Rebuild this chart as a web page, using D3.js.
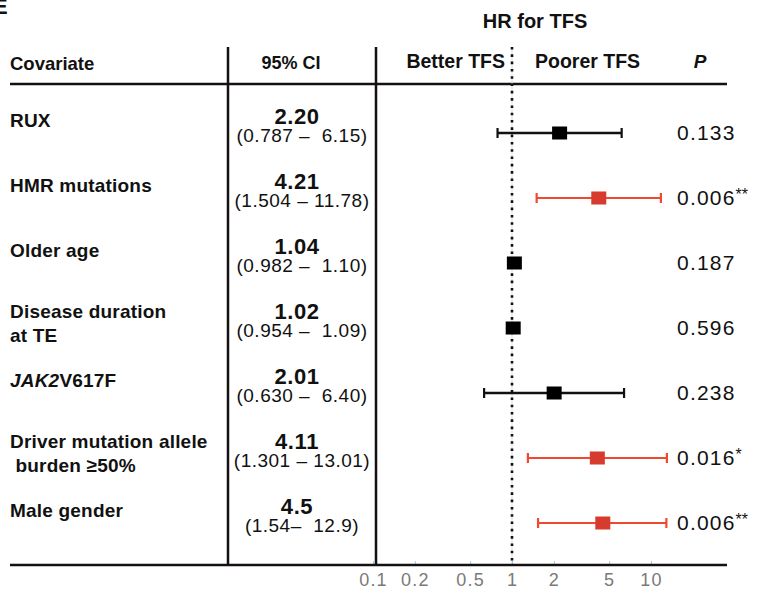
<!DOCTYPE html>
<html>
<head>
<meta charset="utf-8">
<script src="https://cdn.jsdelivr.net/npm/d3@7"></script>
<style>
  body { margin: 0; background: #fff; }
  svg text { font-family: "Liberation Sans", Arial, Helvetica, sans-serif; }
</style>
</head>
<body>
<div id="chart"></div>
<script>
const covariates = [
  ["RUX"],
  ["HMR mutations"],
  ["Older age"],
  ["Disease duration", "at TE"],
  ["JAK2V617F"],
  ["Driver mutation allele", " burden \u226550%"],
  ["Male gender"]
];
const hrValues = [2.20, 4.21, 1.04, 1.02, 2.01, 4.11, 4.5];
const hrLabels = ["2.20", "4.21", "1.04", "1.02", "2.01", "4.11", "4.5"];
const ciLow = [0.787, 1.504, 0.982, 0.954, 0.630, 1.301, 1.54];
const ciHigh = [6.15, 11.78, 1.10, 1.09, 6.40, 13.01, 12.9];
const ciLabels = [
  "(0.787 \u2013  6.15)",
  "(1.504 \u2013 11.78)",
  "(0.982 \u2013  1.10)",
  "(0.954 \u2013  1.09)",
  "(0.630 \u2013  6.40)",
  "(1.301 \u2013 13.01)",
  "(1.54\u2013  12.9)"
];
const pLabels = ["0.133", "0.006**", "0.187", "0.596", "0.238", "0.016*", "0.006**"];
const xTicks = [0.1, 0.2, 0.5, 1, 2, 5, 10];

const width = 758;
const height = 589;
const lineColor = '#161010';
const redLine = '#ef4a30';
const redBox = '#d63b2d';
const tickColor = '#7a7a7a';

const topY = 47;
const headerY = 84;
const bottomY = 565;
const leftX = 10;
const rightX = 727;
const colCI = 228;
const colPlot = 376;

const svg = d3.select('#chart')
  .append('svg')
  .attr('width', width)
  .attr('height', height);

const xScale = d3.scaleLog()
  .domain([0.1, 10])
  .range([373, 651]);

const yScale = d3.scalePoint()
  .domain(d3.range(covariates.length))
  .range([133, 523]);

// panel letter, cut at the edge like in the figure
svg.append('text')
  .attr('x', -7)
  .attr('y', 14)
  .attr('font-size', 22)
  .attr('font-weight', 'bold')
  .attr('fill', '#111')
  .text('E');

// frame lines
svg.append('line')
  .attr('x1', leftX).attr('x2', rightX)
  .attr('y1', headerY).attr('y2', headerY)
  .attr('stroke', lineColor).attr('stroke-width', 2.5);

[colCI, colPlot].forEach(x => {
  svg.append('line')
    .attr('x1', x).attr('x2', x)
    .attr('y1', topY).attr('y2', bottomY)
    .attr('stroke', lineColor).attr('stroke-width', 2.5);
});

// reference line at HR = 1
svg.append('line')
  .attr('x1', xScale(1)).attr('x2', xScale(1))
  .attr('y1', topY).attr('y2', bottomY)
  .attr('stroke', '#d5e3ea').attr('stroke-width', 1);
svg.append('line')
  .attr('x1', xScale(1)).attr('x2', xScale(1))
  .attr('y1', topY).attr('y2', bottomY)
  .attr('stroke', '#111')
  .attr('stroke-width', 2.6)
  .attr('stroke-dasharray', '2.6, 4.7');

// headers
const header = svg.append('g')
  .attr('font-weight', 'bold')
  .attr('font-size', 19)
  .attr('fill', '#111');

header.append('text').attr('x', leftX).attr('y', 70).attr('font-size', 18.5).text('Covariate');
header.append('text').attr('x', 291).attr('y', 69).attr('text-anchor', 'middle').attr('font-size', 18).text('95% CI');
header.append('text').attr('x', 535).attr('y', 28).attr('text-anchor', 'middle').attr('font-size', 20).text('HR for TFS');
header.append('text').attr('x', xScale(1) - 7).attr('y', 68).attr('text-anchor', 'end').attr('font-size', 19.5).text('Better TFS');
header.append('text').attr('x', xScale(1) + 23).attr('y', 68).attr('font-size', 19.5).text('Poorer TFS');
header.append('text').attr('x', 700).attr('y', 68).attr('text-anchor', 'middle')
  .attr('font-style', 'italic').text('P');

// axis
const xAxis = d3.axisBottom(xScale)
  .tickValues(xTicks)
  .tickFormat(d3.format('~g'))
  .tickSizeInner(-4)
  .tickSizeOuter(0)
  .tickPadding(8);

const axisG = svg.append('g')
  .attr('transform', `translate(0, ${bottomY})`)
  .call(xAxis);

axisG.select('.domain').remove();
axisG.selectAll('line').attr('stroke', '#a9c6d6');
axisG.selectAll('text')
  .attr('fill', tickColor)
  .attr('font-size', 18)
  .attr('letter-spacing', 1.2)
  .style('font-family', '"Liberation Sans", Arial, sans-serif');

svg.append('line')
  .attr('x1', leftX).attr('x2', rightX)
  .attr('y1', bottomY).attr('y2', bottomY)
  .attr('stroke', lineColor).attr('stroke-width', 2.5);

// rows
const rows = svg.append('g')
  .selectAll('g')
  .data(covariates.map((label, i) => ({
    label,
    hr: hrValues[i],
    hrLabel: hrLabels[i],
    lo: ciLow[i],
    hi: ciHigh[i],
    ciLabel: ciLabels[i],
    p: pLabels[i],
    sig: parseFloat(pLabels[i]) < 0.05,
    y: yScale(i)
  })))
  .join('g');

rows.each(function (d) {
  const g = d3.select(this);
  const labelText = g.append('text')
    .attr('font-weight', 'bold')
    .attr('font-size', 19)
    .attr('letter-spacing', 0.2)
    .attr('fill', '#111');
  if (d.label.length === 1) {
    labelText.attr('x', leftX).attr('y', d.y - 6);
    if (d.label[0].startsWith('JAK2')) {
      labelText.append('tspan').attr('font-style', 'italic').text('JAK2');
      labelText.append('tspan').text(d.label[0].slice(4));
    } else {
      labelText.text(d.label[0]);
    }
  } else {
    d.label.forEach((line, k) => {
      labelText.append('tspan')
        .attr('x', leftX)
        .attr('y', d.y - 10 + k * 24)
        .style('white-space', 'pre')
        .text(line);
    });
  }
});

rows.append('text')
  .attr('x', 297)
  .attr('y', d => d.y - 9)
  .attr('text-anchor', 'middle')
  .attr('font-weight', 'bold')
  .attr('font-size', 22)
  .attr('letter-spacing', 0.6)
  .attr('fill', '#111')
  .text(d => d.hrLabel);

rows.append('text')
  .attr('x', 302)
  .attr('y', d => d.y + 9)
  .attr('text-anchor', 'middle')
  .attr('font-size', 19)
  .attr('letter-spacing', 0.5)
  .attr('fill', '#111')
  .style('white-space', 'pre')
  .text(d => d.ciLabel);

// error bars
rows.append('line')
  .attr('x1', d => xScale(d.lo))
  .attr('x2', d => xScale(d.hi))
  .attr('y1', d => d.y).attr('y2', d => d.y)
  .attr('stroke', d => d.sig ? redLine : '#111')
  .attr('stroke-width', d => d.sig ? 2 : 2.4);

['lo', 'hi'].forEach(key => {
  rows.append('line')
    .attr('x1', d => xScale(d[key]))
    .attr('x2', d => xScale(d[key]))
    .attr('y1', d => d.y - 5).attr('y2', d => d.y + 5)
    .attr('stroke', d => d.sig ? redLine : '#111')
    .attr('stroke-width', 2.2);
});

rows.append('rect')
  .attr('x', d => xScale(d.hr) - 7.5)
  .attr('y', d => d.y - 6.5)
  .attr('width', 15)
  .attr('height', 13)
  .attr('fill', d => d.sig ? redBox : '#000');

// p values
rows.each(function (d) {
  const m = d.p.match(/^([\d.]+)(\**)$/);
  const t = d3.select(this).append('text')
    .attr('x', 677)
    .attr('y', d.y + 7)
    .attr('font-size', 21)
    .attr('letter-spacing', 1.2)
    .attr('fill', '#111');
  t.append('tspan').text(m[1]);
  if (m[2]) {
    t.append('tspan')
      .attr('font-size', 16)
      .attr('letter-spacing', 0)
      .attr('dy', -5)
      .text(m[2]);
  }
});
</script>
</body>
</html>
